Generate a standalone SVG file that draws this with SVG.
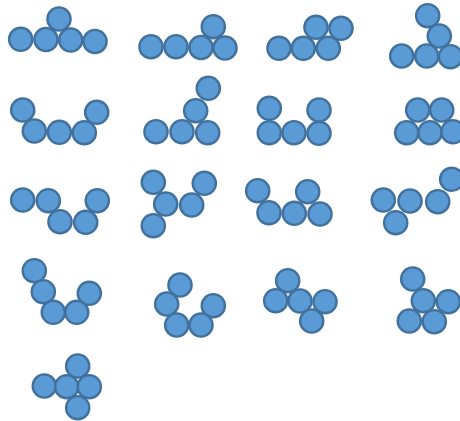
<svg xmlns="http://www.w3.org/2000/svg" width="460" height="421" viewBox="0 0 460 421">
<style>
circle{fill:#5B9BD5;stroke:#41719C;stroke-width:2.4}
</style>
<rect width="460" height="421" fill="#fff"/>
<g id="shape1"><circle cx="59" cy="19" r="11.6"/><circle cx="20.7" cy="39.3" r="11.6"/><circle cx="46" cy="39.5" r="11.6"/><circle cx="70.7" cy="40" r="11.6"/><circle cx="95" cy="41.5" r="11.6"/></g>
<g id="shape2"><circle cx="213.3" cy="26.7" r="11.6"/><circle cx="151" cy="46.7" r="11.6"/><circle cx="176" cy="46.7" r="11.6"/><circle cx="201" cy="47.5" r="11.6"/><circle cx="225" cy="48" r="11.6"/></g>
<g id="shape3"><circle cx="316" cy="27.3" r="11.6"/><circle cx="341" cy="28.3" r="11.6"/><circle cx="279" cy="48.3" r="11.6"/><circle cx="303.3" cy="48.3" r="11.6"/><circle cx="328.3" cy="48.3" r="11.6"/></g>
<g id="shape4"><circle cx="427.7" cy="15.7" r="11.6"/><circle cx="439.3" cy="36" r="11.6"/><circle cx="401.7" cy="56" r="11.6"/><circle cx="426.7" cy="56" r="11.6"/><circle cx="450.5" cy="56.7" r="11.6"/></g>
<g id="shape5"><circle cx="22.7" cy="110" r="11.6"/><circle cx="96.7" cy="112.3" r="11.6"/><circle cx="34.3" cy="131" r="11.6"/><circle cx="59.3" cy="132.3" r="11.6"/><circle cx="84.3" cy="132.7" r="11.6"/></g>
<g id="shape6"><circle cx="208.3" cy="88.3" r="11.6"/><circle cx="195.7" cy="110.7" r="11.6"/><circle cx="156" cy="131.7" r="11.6"/><circle cx="182" cy="131.7" r="11.6"/><circle cx="207.7" cy="132.7" r="11.6"/></g>
<g id="shape7"><circle cx="269.3" cy="108.3" r="11.6"/><circle cx="319" cy="110" r="11.6"/><circle cx="269.3" cy="132.7" r="11.6"/><circle cx="294" cy="132.7" r="11.6"/><circle cx="319" cy="133.3" r="11.6"/></g>
<g id="shape8"><circle cx="417.7" cy="110" r="11.6"/><circle cx="441.7" cy="110" r="11.6"/><circle cx="406.7" cy="132.7" r="11.6"/><circle cx="430" cy="132.7" r="11.6"/><circle cx="453" cy="131.7" r="11.6"/></g>
<g id="shape9"><circle cx="22.7" cy="200" r="11.6"/><circle cx="48.3" cy="200.7" r="11.6"/><circle cx="97.3" cy="200.7" r="11.6"/><circle cx="60" cy="221.7" r="11.6"/><circle cx="85.7" cy="222.3" r="11.6"/></g>
<g id="shape10"><circle cx="153.3" cy="182.3" r="11.6"/><circle cx="204.3" cy="183.3" r="11.6"/><circle cx="165.7" cy="204" r="11.6"/><circle cx="191.7" cy="205" r="11.6"/><circle cx="153.3" cy="225.7" r="11.6"/></g>
<g id="shape11"><circle cx="257.7" cy="190.7" r="11.6"/><circle cx="307.7" cy="191.7" r="11.6"/><circle cx="269" cy="212.7" r="11.6"/><circle cx="294.3" cy="213.3" r="11.6"/><circle cx="320" cy="214" r="11.6"/></g>
<g id="shape12"><circle cx="451.7" cy="179.3" r="11.6"/><circle cx="383.3" cy="200" r="11.6"/><circle cx="410" cy="201" r="11.6"/><circle cx="437.7" cy="201.7" r="11.6"/><circle cx="395.7" cy="222.7" r="11.6"/></g>
<g id="shape13"><circle cx="34.3" cy="270.7" r="11.6"/><circle cx="43.3" cy="291.7" r="11.6"/><circle cx="89.3" cy="293.3" r="11.6"/><circle cx="53.3" cy="312.3" r="11.6"/><circle cx="76.7" cy="312.3" r="11.6"/></g>
<g id="shape14"><circle cx="180" cy="285" r="11.6"/><circle cx="166.7" cy="304" r="11.6"/><circle cx="213.3" cy="305.7" r="11.6"/><circle cx="176.7" cy="325" r="11.6"/><circle cx="201" cy="325" r="11.6"/></g>
<g id="shape15"><circle cx="287.7" cy="280.7" r="11.6"/><circle cx="275.7" cy="300.7" r="11.6"/><circle cx="300" cy="301" r="11.6"/><circle cx="325" cy="301.7" r="11.6"/><circle cx="311.7" cy="321" r="11.6"/></g>
<g id="shape16"><circle cx="412.7" cy="279" r="11.6"/><circle cx="423.3" cy="300.7" r="11.6"/><circle cx="448.3" cy="301.7" r="11.6"/><circle cx="409.3" cy="321" r="11.6"/><circle cx="434.3" cy="321.7" r="11.6"/></g>
<g id="shape17"><circle cx="77.7" cy="366" r="11.6"/><circle cx="44.3" cy="386" r="11.6"/><circle cx="66.7" cy="386.7" r="11.6"/><circle cx="89.3" cy="386.7" r="11.6"/><circle cx="77.7" cy="407.7" r="11.6"/></g>
<g id="connectors"/>
</svg>
